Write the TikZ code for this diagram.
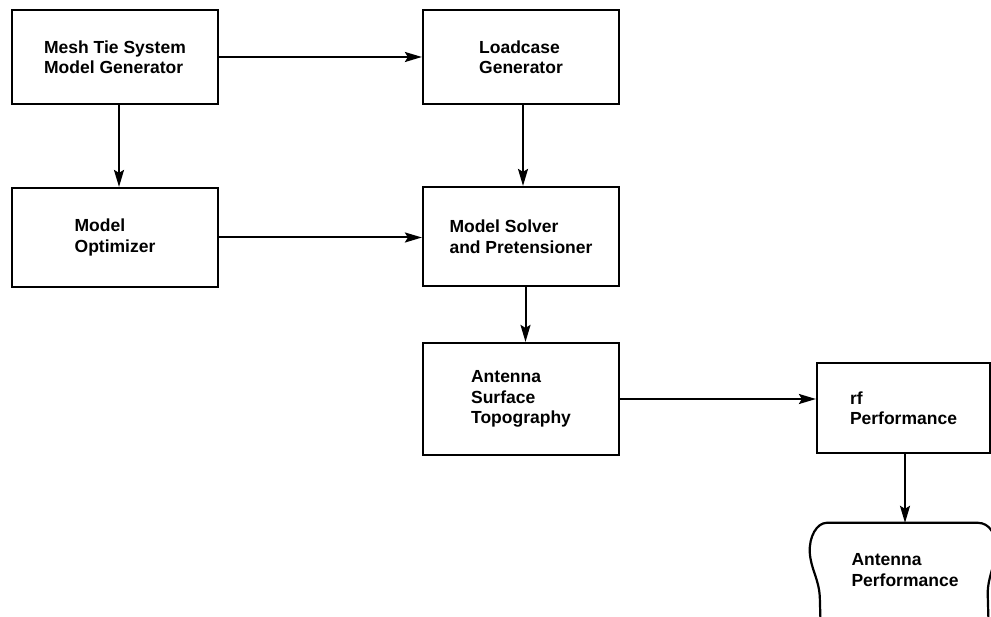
\documentclass[tikz,border=0pt]{standalone}
\usepackage{fontspec}
\setmainfont{Liberation Sans}
\usetikzlibrary{arrows.meta, calc}

\begin{document}
\begin{tikzpicture}[x=1pt, y=-1pt, >={Stealth[length=17pt,width=10pt,inset=3pt]},
    every node/.style={font=\fontsize{17.5}{20.5}\selectfont\bfseries, align=left},
    blk/.style={draw, line width=2.2pt, fill=white, inner sep=0pt},
    conn/.style={->, line width=2pt}]
    \useasboundingbox (0,0) rectangle (991,617);
    \clip (0,0) rectangle (991,617);
    \node[blk, minimum width=206pt, minimum height=94pt]  (mesh)   at (115,57)    {Mesh Tie System\\Model Generator};
    \node[blk, minimum width=196pt, minimum height=94pt]  (load)   at (521,57)    {Loadcase\\Generator};
    \node[blk, minimum width=206pt, minimum height=99pt]  (opt)    at (115,237.5) {Model\\Optimizer};
    \node[blk, minimum width=196pt, minimum height=99pt]  (solver) at (521,236.5) {Model Solver\\and Pretensioner};
    \node[blk, minimum width=196pt, minimum height=112pt] (topo)   at (521,399)   {Antenna\\Surface\\Topography};
    \node[blk, minimum width=173pt, minimum height=90pt]  (rf)     at (903.5,408) {rf\\Performance};
    \node[minimum width=180pt, minimum height=94pt, inner sep=0pt] (perf) at (905,570) {Antenna\\Performance};
    % output symbol round the last node
    \draw[line width=2.2pt, shift={(perf.north west)}]
        (6,110) -- (5,74) .. controls (4,56) and (-4,46) .. (-5,30)
        .. controls (-6,14) and (2,0) .. (12,0) -- (163,0)
        .. controls (175,0) and (182,12) .. (181,28)
        .. controls (180,44) and (172,56) .. (173,74) -- (174,110);
    % connectors
    \draw[conn] (mesh) -- (load);
    \draw[conn] ([xshift=4pt]mesh.south) -- ([xshift=4pt]opt.north);
    \draw[conn] (opt.east) -- (opt.east -| solver.west);
    \draw[conn] ([xshift=2pt]load.south) -- ([xshift=2pt]solver.north);
    \draw[conn] ([xshift=4.5pt]solver.south) -- ([xshift=4.5pt]topo.north);
    \draw[conn] (topo.east) -- (topo.east -| rf.west);
    \draw[conn] ([xshift=1.5pt]rf.south) -- (perf.north);
\end{tikzpicture}
\end{document}
